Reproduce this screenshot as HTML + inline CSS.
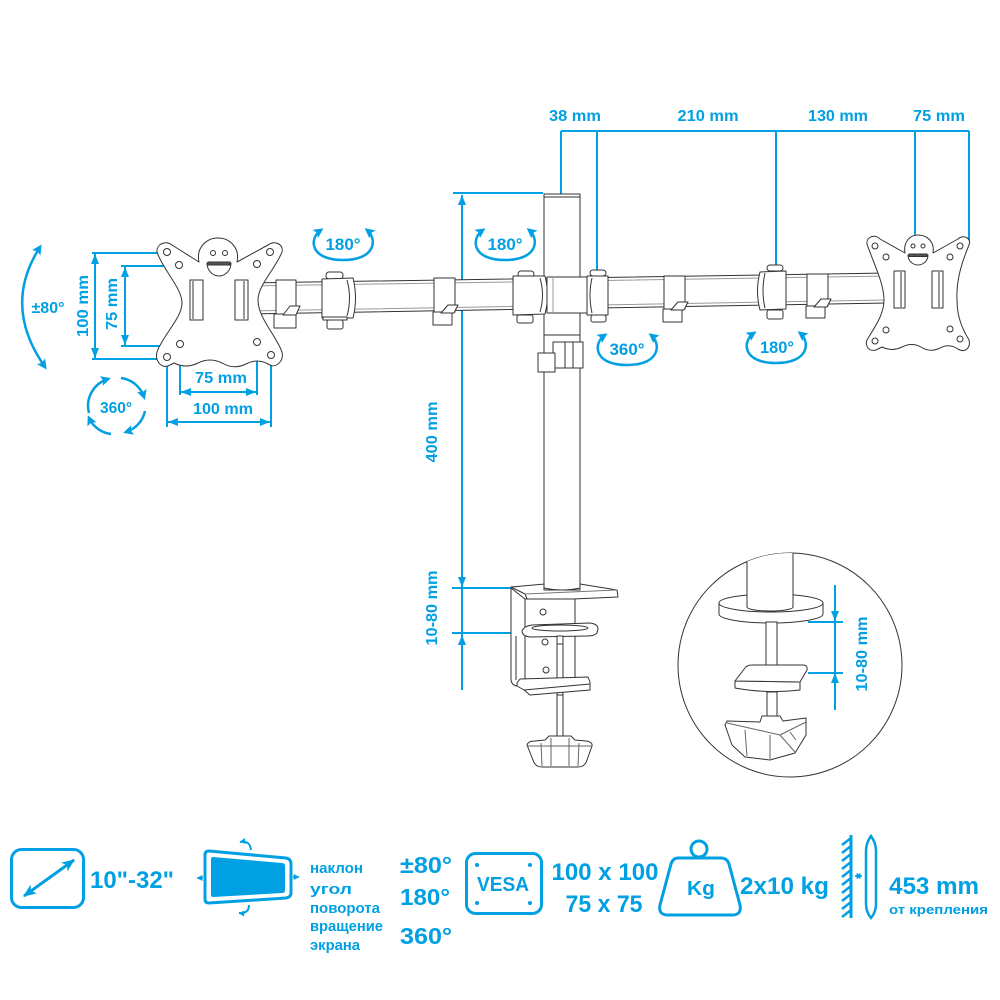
<!DOCTYPE html>
<html><head><meta charset="utf-8">
<style>
html,body{margin:0;padding:0;background:#fff}
svg{display:block}
.t{font-family:"Liberation Sans","Noto Sans CJK SC",sans-serif;font-weight:bold;fill:#00a0e3}
</style></head>
<body>
<svg width="1000" height="1000" viewBox="0 0 1000 1000" xmlns="http://www.w3.org/2000/svg">
<defs>
<marker id="a" viewBox="0 0 10 8" refX="10" refY="4" markerWidth="10" markerHeight="8" markerUnits="userSpaceOnUse" orient="auto-start-reverse"><path d="M0,0 L10,4 L0,8 Z" fill="#00a0e3"/></marker>
<marker id="r" viewBox="0 0 10 10" refX="7" refY="5" markerWidth="10" markerHeight="10" markerUnits="userSpaceOnUse" orient="auto-start-reverse"><path d="M0,0 L10,5 L0,10 L2,5 Z" fill="#00a0e3"/></marker>
<marker id="b" viewBox="0 0 12 10" refX="11" refY="5" markerWidth="13" markerHeight="11" markerUnits="userSpaceOnUse" orient="auto-start-reverse"><path d="M0,0 L12,5 L0,10 L3,5 Z" fill="#00a0e3"/></marker>
<marker id="s" viewBox="0 0 10 10" refX="9" refY="5" markerWidth="6" markerHeight="6" markerUnits="userSpaceOnUse" orient="auto-start-reverse"><path d="M0,0 L10,5 L0,10 Z" fill="#00a0e3"/></marker>
<clipPath id="cc"><circle cx="790" cy="665" r="112"/></clipPath>
</defs>
<rect width="1000" height="1000" fill="#fff"/>

<!-- ============ BLUE DIMENSIONS ============ -->
<g stroke="#00a0e3" stroke-width="2" fill="none">
  <path d="M561,131 L969,131"/>
  <path d="M561,131 L561,195 M597,131 L597,271 M776,131 L776,266 M915,131 L915,236 M969,131 L969,241"/>
  <path d="M453,193 L543,193"/>
  <path d="M462,195 L462,587" marker-start="url(#a)" marker-end="url(#a)"/>
  <path d="M452,588 L511,588 M452,633 L511,633"/>
  <path d="M462,588 L462,635"/>
  <path d="M462,690 L462,635" marker-end="url(#a)"/>
  <path d="M92,253 L165,253 M121,266 L177,266 M121,346 L178,346 M92,359 L164,359"/>
  <path d="M95,254 L95,358" marker-start="url(#a)" marker-end="url(#a)"/>
  <path d="M125,267 L125,345" marker-start="url(#a)" marker-end="url(#a)"/>
  <path d="M180,348 L180,395 M257,345 L257,395 M167,360 L167,427 M271,358 L271,427"/>
  <path d="M181,392 L256,392" marker-start="url(#a)" marker-end="url(#a)"/>
  <path d="M168,422 L270,422" marker-start="url(#a)" marker-end="url(#a)"/>
  <path d="M40,247 Q2,306 45,367" stroke-width="2.5" marker-start="url(#r)" marker-end="url(#r)"/>
  <g stroke-width="2.5">
    <path d="M89,413 A28,28 0 0 1 108,379" marker-end="url(#r)"/>
    <path d="M121,378 A28,28 0 0 1 144,397" marker-end="url(#r)"/>
    <path d="M145,411 A28,28 0 0 1 126,432" marker-end="url(#r)"/>
    <path d="M111,434 A28,28 0 0 1 89,418" marker-end="url(#r)"/>
  </g>
  <g stroke-width="2.5">
    <path d="M321,230 C309,238 309,260 343,260 C377,260 377,238 367,230" marker-start="url(#r)" marker-end="url(#r)"/>
    <path d="M483,230 C471,238 471,260 505,260 C539,260 539,238 529,230" marker-start="url(#r)" marker-end="url(#r)"/>
    <path d="M605,335 C593,343 593,365 627,365 C661,365 661,343 651,335" marker-start="url(#r)" marker-end="url(#r)"/>
    <path d="M754,333 C742,341 742,363 776,363 C810,363 810,341 800,333" marker-start="url(#r)" marker-end="url(#r)"/>
  </g>
</g>

<!-- ============ DRAWING ============ -->
<g stroke="#333" stroke-width="1" fill="#fff" stroke-linejoin="round">
  <path d="M511,587 L545,584 L580,584 L617,590 L618,597 L528,601 L525,594 Z"/>
  <path d="M525,594 L617,590" fill="none" stroke="#777"/>
  <path d="M511,588 L511,680 Q512,686 518,686 L525,684 L525,599 Z"/>
  <rect x="525" y="599" width="50" height="80"/>
  <path d="M516,636 L516,680" fill="none"/>
  <circle cx="543" cy="612" r="3"/>
  <circle cx="545" cy="642" r="3"/>
  <circle cx="546" cy="670" r="3"/>
  <rect x="557" y="628" width="6" height="112"/>
  <path d="M522,631 Q524,626 532,625 L590,623 Q598,624 598,629 L597,633 Q594,636 588,636 L530,637 Q522,636 522,631 Z"/>
  <ellipse cx="560" cy="628" rx="28" ry="3" fill="none"/>
  <rect x="557" y="636" width="6" height="8"/>
  <path d="M517,683 L520,679 L588,677 L590,682 L590,690 L530,695 L524,690 L517,686 Z"/>
  <path d="M524,690 L590,684" fill="none"/>
  <rect x="557" y="695" width="6" height="42"/>
  <path d="M527,745 Q528,741 535,741 L545,740 L549,736 L571,736 L575,740 L586,741 Q593,742 592,746 L587,760 Q585,767 578,767 L542,767 Q535,767 533,760 Z"/>
  <path d="M541,743 L542,766 M551,738 L551,766 M569,738 L569,766 M579,743 L578,766 M528,746 L592,746" fill="none" stroke="#666"/>

  <rect x="544" y="194" width="36" height="396"/>
  <path d="M544,197 L580,197" fill="none"/>
  <path d="M544,588 Q562,592 580,588" fill="none"/>

  <path d="M250,283 L888,273 L888,303 L250,314 Z"/>
  <path d="M250,286 L888,276 M250,311 L888,300" stroke="#999" fill="none"/>

  <rect x="276" y="280" width="20" height="34"/>
  <rect x="274" y="314" width="22" height="14"/>
  <path d="M283,315 L290,306 L300,306 L296,315 Z"/>
  <rect x="326" y="272" width="17" height="7" rx="3"/>
  <path d="M322,279 L353,278 Q358,298 353,318 L322,318 Z"/>
  <path d="M347,280 Q352,298 347,316" fill="none"/>
  <rect x="323" y="317" width="24" height="3"/>
  <rect x="327" y="320" width="16" height="9" rx="2"/>
  <rect x="434" y="278" width="21" height="34"/>
  <rect x="433" y="312" width="19" height="13"/>
  <path d="M441,313 L448,305 L458,305 L454,313 Z"/>

  <rect x="518" y="271" width="16" height="6" rx="3"/>
  <path d="M513,276 L545,276 Q550,295 545,314 L513,315 Z"/>
  <path d="M540,278 Q545,295 540,312" fill="none"/>
  <rect x="517" y="315" width="16" height="8" rx="2"/>
  <rect x="547" y="277" width="40" height="36"/>
  <path d="M553,278 L553,312" fill="none" stroke="#999"/>
  <rect x="590" y="270" width="16" height="6" rx="3"/>
  <path d="M587,276 L608,276 L608,315 L587,315 Z"/>
  <path d="M592,278 Q588,295 592,313" fill="none"/>
  <rect x="591" y="315" width="15" height="7" rx="2"/>
  <path d="M544,335 L580,335" fill="none"/>
  <rect x="553" y="342" width="30" height="26"/>
  <path d="M565,342 L565,368 M573,342 L573,368" fill="none"/>
  <rect x="538" y="353" width="17" height="19"/>

  <rect x="664" y="276" width="21" height="33"/>
  <rect x="663" y="309" width="19" height="13"/>
  <path d="M671,310 L678,302 L688,302 L684,310 Z"/>
  <rect x="767" y="265" width="16" height="6" rx="3"/>
  <path d="M760,272 L786,271 L786,309 L760,310 Q755,291 760,272 Z"/>
  <path d="M765,273 Q761,291 765,308" fill="none"/>
  <rect x="767" y="310" width="16" height="9" rx="2"/>
  <rect x="807" y="274" width="21" height="32"/>
  <rect x="806" y="306" width="19" height="12"/>
  <path d="M814,307 L821,299 L831,299 L827,307 Z"/>

  <path d="M157,252 C156,244 166,240 172,245 L199,262 C196,248 206,238 218,238 C230,238 240,248 237,262 L268,245 C274,240 284,244 282,252 C276,268 258,285 258,300 C258,318 276,335 282,352 C284,360 278,366 272,366 L268,364 Q257,358 246,364 Q234,370 222,363 Q210,357 198,363 Q186,369 174,363 L168,366 C160,368 155,360 157,352 C163,335 182,318 182,303 C182,288 163,270 157,252 Z"/>
  <circle cx="167" cy="252" r="3.5"/><circle cx="179" cy="265" r="3.5"/>
  <circle cx="257" cy="264" r="3.5"/><circle cx="270" cy="252" r="3.5"/>
  <circle cx="180" cy="344" r="3.5"/><circle cx="167" cy="357" r="3.5"/>
  <circle cx="257" cy="342" r="3.5"/><circle cx="271" cy="355" r="3.5"/>
  <circle cx="213" cy="253" r="2.5"/><circle cx="225" cy="253" r="2.5"/>
  <path d="M207,263 L231,263 A12,13 0 0 1 207,263 Z"/>
  <rect x="208" y="262" width="22" height="3" fill="#555"/>
  <rect x="190" y="280" width="13" height="40"/><path d="M193,281 L193,319" fill="none"/>
  <rect x="235" y="280" width="13" height="40"/><path d="M244,281 L244,319" fill="none"/>

  <path d="M867,244 C866,236 876,234 880,239 L905,253 C903,242 910,235 918,235 C927,235 935,242 933,253 L958,239 C963,234 972,238 969,245 C962,262 956,280 957,300 C957,318 963,330 969,340 C971,348 965,352 960,350 L958,349 Q949,343 940,348 Q930,353 921,347 Q912,342 902,347 Q892,352 882,347 L876,350 C868,352 865,345 867,340 C874,328 884,315 884,300 C884,283 873,262 867,244 Z"/>
  <circle cx="875" cy="246" r="3"/><circle cx="886" cy="257" r="3"/>
  <circle cx="960" cy="246" r="3"/><circle cx="950" cy="257" r="3"/>
  <circle cx="886" cy="330" r="3"/><circle cx="875" cy="341" r="3"/>
  <circle cx="950" cy="329" r="3"/><circle cx="960" cy="339" r="3"/>
  <circle cx="913" cy="246" r="2"/><circle cx="923" cy="246" r="2"/>
  <path d="M908,255 L928,255 A10,10 0 0 1 908,255 Z"/>
  <rect x="909" y="254" width="18" height="2.5" fill="#555"/>
  <rect x="894" y="271" width="11" height="37"/><path d="M901,272 L901,307" fill="none"/>
  <rect x="932" y="271" width="11" height="37"/><path d="M939,272 L939,307" fill="none"/>

  <circle cx="790" cy="665" r="112"/>
  <g clip-path="url(#cc)">
    <path d="M719,603 L719,614 A52,9 0 0 0 823,614 L823,603 Z"/>
    <ellipse cx="771" cy="603" rx="52" ry="9"/>
    <rect x="747" y="540" width="46" height="67" stroke="none"/>
    <path d="M747,540 L747,607 A23,4 0 0 0 793,607 L793,540" fill="none"/>
    <rect x="766" y="622" width="11" height="50"/>
    <path d="M735,681 L735,688 Q768,694 800,690 L800,682 Z"/>
    <path d="M735,681 L745,668 Q747,665 752,665 L803,665 Q808,665 807,670 L800,682 Z"/>
    <rect x="767" y="692" width="10" height="28"/>
    <path d="M725,725 L727,721 L760,722 L762,716 L780,716 L783,721 L806,718 L806,735 L795,753 L770,760 L745,757 L732,745 Z"/>
    <path d="M727,723 L780,735 L806,722 M745,730 L747,756 M770,735 L770,759 M780,735 L795,752 M790,732 L796,740" fill="none" stroke="#666"/>
  </g>
</g>

<g stroke="#00a0e3" stroke-width="2" fill="none">
  <path d="M808,622 L843,622 M808,673 L843,673"/>
  <path d="M835,585 L835,621" marker-end="url(#a)"/>
  <path d="M835,621 L835,673"/>
  <path d="M835,710 L835,673" marker-end="url(#a)"/>
</g>

<!-- ============ BLUE LABELS ============ -->
<g class="t" text-anchor="middle">
  <text x="575" y="121" font-size="16" textLength="52" lengthAdjust="spacingAndGlyphs">38 mm</text>
  <text x="708" y="121" font-size="16" textLength="61" lengthAdjust="spacingAndGlyphs">210 mm</text>
  <text x="838" y="121" font-size="16" textLength="60" lengthAdjust="spacingAndGlyphs">130 mm</text>
  <text x="939" y="121" font-size="16" textLength="52" lengthAdjust="spacingAndGlyphs">75 mm</text>
  <text transform="translate(82,306) rotate(-90)" x="0" y="6" font-size="16" textLength="62" lengthAdjust="spacingAndGlyphs">100 mm</text>
  <text transform="translate(111,304) rotate(-90)" x="0" y="6" font-size="16" textLength="52" lengthAdjust="spacingAndGlyphs">75 mm</text>
  <text transform="translate(431,432) rotate(-90)" x="0" y="6" font-size="16" textLength="61" lengthAdjust="spacingAndGlyphs">400 mm</text>
  <text transform="translate(431,608) rotate(-90)" x="0" y="6" font-size="16" textLength="75" lengthAdjust="spacingAndGlyphs">10-80 mm</text>
  <text transform="translate(861,654) rotate(-90)" x="0" y="6" font-size="16" textLength="75" lengthAdjust="spacingAndGlyphs">10-80 mm</text>
  <text x="221" y="383" font-size="16" textLength="52" lengthAdjust="spacingAndGlyphs">75 mm</text>
  <text x="223" y="414" font-size="16" textLength="60" lengthAdjust="spacingAndGlyphs">100 mm</text>
  <text x="48" y="313" font-size="16" textLength="33" lengthAdjust="spacingAndGlyphs">±80°</text>
  <text x="116" y="413" font-size="16" textLength="32" lengthAdjust="spacingAndGlyphs">360°</text>
  <text x="343" y="250" font-size="17" textLength="35" lengthAdjust="spacingAndGlyphs">180°</text>
  <text x="505" y="250" font-size="17" textLength="35" lengthAdjust="spacingAndGlyphs">180°</text>
  <text x="627" y="355" font-size="17" textLength="35" lengthAdjust="spacingAndGlyphs">360°</text>
  <text x="777" y="353" font-size="17" textLength="34" lengthAdjust="spacingAndGlyphs">180°</text>
</g>

<!-- ============ BOTTOM ROW ============ -->
<g stroke="#00a0e3" fill="none" stroke-width="3">
  <rect x="11.5" y="849.5" width="72" height="58" rx="10"/>
  <path d="M24,896 L74,860" marker-start="url(#b)" marker-end="url(#b)"/>
  <path d="M209,851 L286,858 Q291,859 291,864 L291,893 Q291,897 286,898 L209,903 Q205,903 205,899 L205,855 Q205,851 209,851 Z"/>
  <path d="M213,857 L282,863 Q285,863 285,866 L285,890 Q285,893 282,893 L213,897 Q211,897 211,895 L211,859 Q211,857 213,857 Z" fill="#00a0e3" stroke="none"/>
  <path d="M203,878 L197,878" stroke-width="1.5" marker-end="url(#s)"/>
  <path d="M293,877 L299,877" stroke-width="1.5" marker-end="url(#s)"/>
  <path d="M251,850 Q250,840 240,842" stroke-width="2" marker-end="url(#s)"/>
  <path d="M249,905 Q249,914 239,913" stroke-width="2" marker-end="url(#s)"/>
  <rect x="466.5" y="853.5" width="75" height="60" rx="9"/>
  <circle cx="699" cy="849" r="8"/>
  <path d="M678,858 L721,858 Q727,858 729,864 L740,905 Q742,915 732,915 L668,915 Q658,915 660,905 L671,864 Q673,858 678,858 Z"/>
  <line x1="851" y1="835" x2="851" y2="918"/>
  <path d="M842,845 L851,838 M842,853 L851,846 M842,861 L851,854 M842,869 L851,862 M842,877 L851,870 M842,885 L851,878 M842,893 L851,886 M842,901 L851,894 M842,909 L851,902 M842,917 L851,910" stroke-width="2.5"/>
  <path d="M855,876 L862,876" stroke-width="1.5" marker-start="url(#s)" marker-end="url(#s)"/>
  <path d="M871,836 Q876,843 876,851 L876,904 Q876,912 871,918 Q866,912 866,904 L866,851 Q866,843 871,836 Z" stroke-width="2.5"/>
</g>
<g fill="#00a0e3">
  <circle cx="477" cy="865" r="2"/><circle cx="530" cy="865" r="2"/>
  <circle cx="477" cy="903" r="2"/><circle cx="530" cy="903" r="2"/>
</g>
<g class="t">
  <text x="90" y="888" font-size="24" textLength="84" lengthAdjust="spacingAndGlyphs">10"-32"</text>
  <text x="310" y="873" font-size="15" textLength="53" lengthAdjust="spacingAndGlyphs">наклон</text>
  <text x="310" y="894" font-size="15" textLength="42" lengthAdjust="spacingAndGlyphs">угол</text>
  <text x="310" y="913" font-size="15" textLength="70" lengthAdjust="spacingAndGlyphs">поворота</text>
  <text x="310" y="931" font-size="15" textLength="73" lengthAdjust="spacingAndGlyphs">вращение</text>
  <text x="310" y="950" font-size="15" textLength="50" lengthAdjust="spacingAndGlyphs">экрана</text>
  <text x="400" y="873" font-size="23" textLength="52" lengthAdjust="spacingAndGlyphs">±80°</text>
  <text x="400" y="905" font-size="23" textLength="50" lengthAdjust="spacingAndGlyphs">180°</text>
  <text x="400" y="944" font-size="23" textLength="52" lengthAdjust="spacingAndGlyphs">360°</text>
  <text x="503" y="891" font-size="20" textLength="52" lengthAdjust="spacingAndGlyphs" text-anchor="middle">VESA</text>
  <text x="605" y="880" font-size="24" textLength="107" lengthAdjust="spacingAndGlyphs" text-anchor="middle">100 x 100</text>
  <text x="604" y="912" font-size="24" textLength="77" lengthAdjust="spacingAndGlyphs" text-anchor="middle">75 x 75</text>
  <text x="701" y="895" font-size="20" textLength="28" lengthAdjust="spacingAndGlyphs" text-anchor="middle">Kg</text>
  <text x="740" y="894" font-size="24" textLength="89" lengthAdjust="spacingAndGlyphs">2x10 kg</text>
  <text x="889" y="894" font-size="24" textLength="90" lengthAdjust="spacingAndGlyphs">453 mm</text>
  <text x="889" y="914" font-size="13" textLength="99" lengthAdjust="spacingAndGlyphs">от крепления</text>
</g>
</svg>
</body></html>
